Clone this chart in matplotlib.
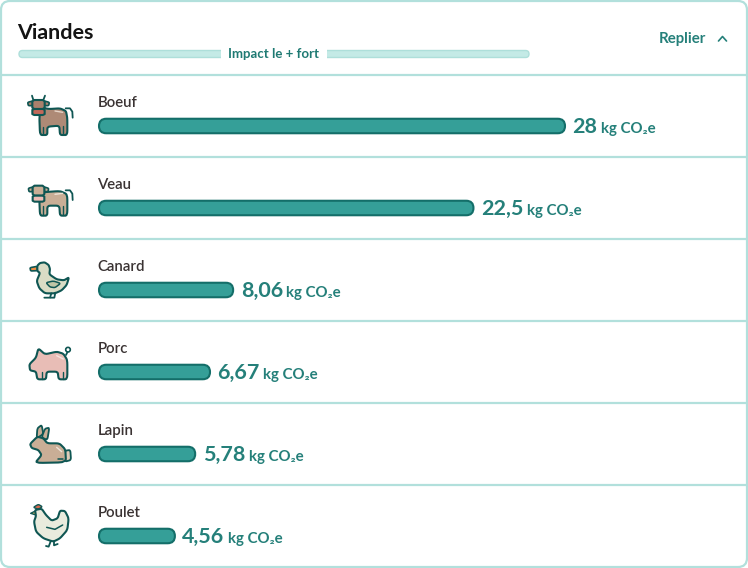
import matplotlib
matplotlib.use("Agg")
import matplotlib.pyplot as plt
from matplotlib.patches import FancyBboxPatch, Polygon, Circle, Rectangle

# --- Data ---
TITLE = "Viandes"
SCALE_LABEL = "Impact le + fort"
TOGGLE_LABEL = "Replier"
UNIT = "kg CO₂e"
MEATS = ["Boeuf", "Veau", "Canard", "Porc", "Lapin", "Poulet"]
IMPACTS = [28, 22.5, 8.06, 6.67, 5.78, 4.56]

# --- Colours ---
BORDER = "#B2E0DC"
GAUGE_FILL = "#C4EAE6"
BAR_FILL = "#359F98"
BAR_EDGE = "#146E69"
TEAL_TEXT = "#25807A"
OUTLINE = "#0F5653"

plt.rcParams["font.family"] = ["Lato", "DejaVu Sans"]

W, H = 748, 568
ROW_H = 82
FIRST_BAR_Y = 126
BAR_H = 14.5


def px(size):
    # font size given in pixels, figure is at 100 dpi
    return size * 0.72


def smooth(points, rounds=2, cut=0.15):
    # corner cutting, small cut so that legs keep their shape
    for _ in range(rounds):
        out = []
        for i, (x0, y0) in enumerate(points):
            x1, y1 = points[(i + 1) % len(points)]
            out.append(((1 - cut) * x0 + cut * x1, (1 - cut) * y0 + cut * y1))
            out.append((cut * x0 + (1 - cut) * x1, cut * y0 + (1 - cut) * y1))
        points = out
    return points


def shape(ax, points, origin, fill, lw=1.5, rounds=2, zorder=3):
    pts = smooth(points, rounds) if rounds else points
    pts = [(x / 3 + origin[0], y / 3 + origin[1]) for x, y in pts]
    ax.add_patch(Polygon(pts, closed=True, facecolor=fill, edgecolor=OUTLINE,
                         linewidth=lw, joinstyle="round", zorder=zorder))


def stroke(ax, points, origin, lw=1.3, color=OUTLINE):
    xs = [x / 3 + origin[0] for x, y in points]
    ys = [y / 3 + origin[1] for x, y in points]
    ax.plot(xs, ys, color=color, lw=lw, solid_capstyle="round", zorder=5)


def draw_cow(ax):
    origin = (10, 85)
    shape(ax, [(95, 68), (118, 72), (150, 70), (168, 78), (172, 100), (172, 150), (150, 150),
               (148, 122), (112, 125), (112, 150), (90, 150), (88, 95)], origin, "#AE8A76")
    stroke(ax, [(100, 125), (100, 148)], origin, lw=1)
    stroke(ax, [(160, 122), (160, 148)], origin, lw=1)
    stroke(ax, [(167, 70), (180, 70), (187, 80), (188, 98)], origin)
    stroke(ax, [(135, 78), (158, 82)], origin, lw=1, color="#E6D5C8")
    shape(ax, [(53, 52), (68, 48), (68, 62), (55, 62)], origin, "#A9806C", lw=1.2)
    shape(ax, [(103, 48), (118, 52), (116, 62), (103, 62)], origin, "#A9806C", lw=1.2)
    shape(ax, [(67, 45), (104, 45), (104, 72), (67, 72)], origin, "#A9806C", rounds=1)
    shape(ax, [(67, 72), (104, 72), (104, 90), (67, 90)], origin, "#C2685A", rounds=1)
    stroke(ax, [(70, 45), (66, 32)], origin)
    stroke(ax, [(100, 45), (105, 32)], origin)


def draw_calf(ax):
    origin = (10, 85)
    shape(ax, [(95, 322), (150, 318), (172, 328), (172, 392), (150, 392), (148, 362),
               (112, 362), (112, 392), (90, 392), (88, 345)], origin, "#C9AE96")
    stroke(ax, [(100, 364), (100, 390)], origin, lw=1)
    stroke(ax, [(160, 364), (160, 390)], origin, lw=1)
    stroke(ax, [(167, 316), (180, 316), (187, 326), (188, 345)], origin)
    stroke(ax, [(135, 328), (158, 325)], origin, lw=1, color="#EFE3D6")
    shape(ax, [(55, 310), (68, 306), (68, 320), (57, 320)], origin, "#C9AE96", lw=1.2)
    shape(ax, [(103, 306), (116, 310), (114, 320), (103, 320)], origin, "#C9AE96", lw=1.2)
    shape(ax, [(68, 302), (103, 302), (103, 332), (68, 332)], origin, "#C9AE96", rounds=1)
    shape(ax, [(68, 332), (103, 332), (103, 350), (68, 350)], origin, "#EDBDB6", rounds=1)


def draw_duck(ax):
    origin = (10, 245)
    shape(ax, [(60, 68), (82, 64), (82, 77), (62, 78)], origin, "#EE8F45", lw=1.2, rounds=1)
    shape(ax, [(82, 62), (90, 54), (104, 52), (116, 60), (120, 72), (118, 88), (140, 103),
               (162, 106), (177, 97), (170, 120), (155, 136), (135, 145), (105, 145),
               (88, 130), (80, 108), (90, 84), (82, 78)], origin, "#D9DCC5")
    shape(ax, [(108, 113), (130, 108), (152, 115), (135, 128), (120, 126)], origin, "#BFC6A6", lw=1.1)
    stroke(ax, [(124, 145), (120, 158), (103, 158)], origin)
    stroke(ax, [(136, 143), (133, 158), (122, 158)], origin)


def draw_pig(ax):
    origin = (10, 245)
    shape(ax, [(58, 358), (78, 338), (85, 310), (105, 328), (140, 320), (160, 326), (172, 345),
               (172, 403), (146, 403), (143, 380), (110, 380), (108, 403), (82, 403),
               (78, 380), (60, 376)], origin, "#E8BDB6")
    stroke(ax, [(95, 382), (95, 401)], origin, lw=1)
    stroke(ax, [(158, 382), (158, 401)], origin, lw=1)
    stroke(ax, [(140, 332), (160, 342)], origin, lw=1, color="#F6E2DE")
    stroke(ax, [(168, 330), (172, 322)], origin)
    ax.add_patch(Circle((174 / 3 + 10, 314 / 3 + 245), 2.3, facecolor="white",
                        edgecolor=OUTLINE, linewidth=1.2, zorder=4))


def draw_rabbit(ax):
    origin = (10, 410)
    shape(ax, [(80, 85), (82, 55), (95, 45), (100, 72)], origin, "#C9AE96", lw=1.3)
    shape(ax, [(95, 82), (105, 56), (118, 53), (112, 90)], origin, "#C9AE96", lw=1.3)
    shape(ax, [(165, 122), (181, 120), (183, 150), (165, 155)], origin, "#DCCBB8", lw=1.3)
    shape(ax, [(60, 102), (82, 80), (100, 85), (112, 100), (148, 100), (166, 118),
               (168, 157), (75, 159), (95, 135), (85, 120), (65, 114)], origin, "#C9AE96")
    stroke(ax, [(143, 148), (160, 148)], origin, lw=1.1)
    stroke(ax, [(140, 112), (155, 125)], origin, lw=1, color="#EFE3D6")


def draw_chicken(ax):
    origin = (10, 410)
    shape(ax, [(70, 292), (85, 283), (97, 290), (85, 298)], origin, "#D9694F", lw=1)
    shape(ax, [(62, 310), (76, 303), (78, 315)], origin, "#EBC15A", lw=1, rounds=0)
    shape(ax, [(75, 300), (95, 296), (108, 315), (125, 332), (143, 325), (150, 302),
               (165, 303), (176, 325), (172, 360), (150, 385), (130, 395), (100, 385),
               (78, 365), (72, 335), (78, 318)], origin, "#E9EBDD")
    stroke(ax, [(110, 352), (135, 358), (158, 345)], origin, lw=1.1)
    stroke(ax, [(122, 394), (116, 410), (108, 408)], origin)
    stroke(ax, [(132, 394), (132, 406), (143, 402)], origin)


fig = plt.figure(figsize=(W / 100, H / 100), dpi=100)

# --- Frame, drawn in pixel coordinates ---
bg = fig.add_axes([0, 0, 1, 1])
bg.set_xlim(0, W)
bg.set_ylim(H, 0)
bg.axis("off")

bg.add_patch(FancyBboxPatch((1, 1), W - 2, H - 2, boxstyle="round,pad=0,rounding_size=9",
                            facecolor="white", edgecolor=BORDER, linewidth=1.6))
for i in range(len(MEATS)):
    bg.plot([1, W - 1], [75 + i * ROW_H] * 2, color=BORDER, lw=1.6, zorder=1)

bg.text(17.5, 39, TITLE, fontsize=px(21.5), fontweight="bold", color="#141414", va="baseline")
bg.add_patch(FancyBboxPatch((19, 50.5), 510, 7, boxstyle="round,pad=0,rounding_size=3.5",
                            facecolor=GAUGE_FILL, edgecolor="#AEDFDA", linewidth=1))
bg.add_patch(Rectangle((221, 47), 106, 14, facecolor="white", edgecolor="none", zorder=2))
bg.text(274, 58.5, SCALE_LABEL, fontsize=px(13.3), fontweight="bold", color="#1F7A73",
        ha="center", va="baseline", zorder=3)
bg.text(658.5, 43, TOGGLE_LABEL, fontsize=px(15), fontweight="bold", color=TEAL_TEXT, va="baseline")
bg.plot([718.5, 722.5, 726.5], [41, 36.5, 41], color=TEAL_TEXT, lw=1.2, solid_capstyle="round")

draw_cow(bg)
draw_calf(bg)
draw_duck(bg)
draw_pig(bg)
draw_rabbit(bg)
draw_chicken(bg)

# --- Bars, on their own axes: outer edge of the 28 bar runs from x=98 to x=566 ---
left, right = 99, 565
top = FIRST_BAR_Y - ROW_H / 2
ax = fig.add_axes([left / W, 0, (right - left) / W, (H - top) / H])
ax.patch.set_alpha(0)
ax.axis("off")
ax.set_xlim(0, max(IMPACTS))
ax.set_ylim((H - FIRST_BAR_Y) / ROW_H, -0.5)

px_per_x = (right - left) / max(IMPACTS)
bar_h = BAR_H / ROW_H
radius = (BAR_H / 2) / px_per_x

renderer = fig.canvas.get_renderer()
for i, (name, value) in enumerate(zip(MEATS, IMPACTS)):
    ax.add_patch(FancyBboxPatch((0, i - bar_h / 2), value, bar_h,
                                boxstyle=f"round,pad=0,rounding_size={radius}",
                                mutation_aspect=px_per_x / ROW_H,
                                facecolor=BAR_FILL, edgecolor=BAR_EDGE, linewidth=1.5,
                                clip_on=False))
    ax.annotate(name, (0, i), xytext=(-1.5, 19), textcoords="offset pixels",
                fontsize=px(15), fontweight="semibold", color="#3A3333", va="baseline")
    label = str(value).replace(".", ",")
    txt = ax.annotate(label, (value, i), xytext=(7.5, -7), textcoords="offset pixels",
                      fontsize=px(21.5), fontweight="bold", color=TEAL_TEXT, va="baseline",
                      annotation_clip=False)
    end = txt.get_window_extent(renderer).x1
    bg.text(end + 3.5, FIRST_BAR_Y + i * ROW_H + 7, UNIT, fontsize=px(15), fontweight="bold",
            color=TEAL_TEXT, va="baseline")

fig.savefig("out.png", dpi=100)
